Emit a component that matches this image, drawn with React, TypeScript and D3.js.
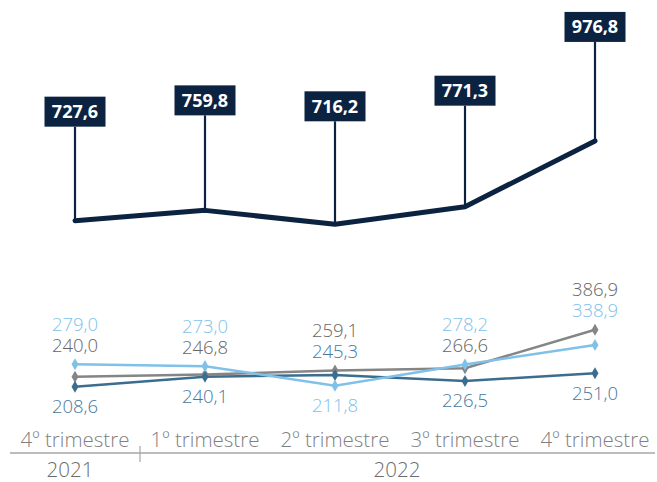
import React from 'react'
import * as d3 from 'd3'

const quarters = ['4º trimestre', '1º trimestre', '2º trimestre', '3º trimestre', '4º trimestre']
const years = [
  { label: '2021', from: 0, to: 1 },
  { label: '2022', from: 1, to: 5 },
]

const totalValues = [727.6, 759.8, 716.2, 771.3, 976.8]
const lightBlueValues = [279.0, 273.0, 211.8, 278.2, 338.9]
const grayValues = [240.0, 246.8, 259.1, 266.6, 386.9]
const darkBlueValues = [208.6, 240.1, 245.3, 226.5, 251.0]

// how far (px) the boxed labels sit above the total line
const boxLift = [94, 95, 103, 101, 99]
// label placement per quarter: series above (far -> near), series below
const labelPlan = [
  { above: ['lb', 'gr'], below: ['db'] },
  { above: ['lb', 'gr'], below: ['db'] },
  { above: ['gr', 'db'], below: ['lb'] },
  { above: ['lb', 'gr'], below: ['db'] },
  { above: ['gr', 'lb'], below: ['db'] },
]

const W = 657
const H = 482
const NAVY = '#0b2341'
const FONT = '"Open Sans", sans-serif'

const series = [
  { key: 'gr', values: grayValues, color: '#858585', text: '#666666' },
  { key: 'db', values: darkBlueValues, color: '#3b6d8f', text: '#46799e' },
  { key: 'lb', values: lightBlueValues, color: '#7fc1e8', text: '#80c2ea' },
]

const fmt = (v: number) => d3.format('.1f')(v).replace('.', ',')

export default function App() {
  const x = d3.scaleBand<number>().domain(d3.range(quarters.length)).range([10, 660]).padding(0)
  const cx = (i: number) => (x(i) as number) + x.bandwidth() / 2
  const y = d3.scaleLinear().domain([0, 1000]).range([453.5, 133.5])

  const line = d3.line<number>().x((_, i) => cx(i)).y(d => y(d))
  const diamond = d3.symbol().type(d3.symbolDiamond).size(42)

  const byKey: Record<string, typeof series[0]> = {}
  series.forEach(s => { byKey[s.key] = s })

  return (
    <svg width={W} height={H} style={{ position: 'absolute', left: 0, top: 0 }} fontFamily={FONT}>
      {/* total line */}
      <path d={line(totalValues) || ''} fill="none" stroke={NAVY} strokeWidth={5} strokeLinecap="round" strokeLinejoin="round" />
      {totalValues.map((v, i) => {
        const py = y(v)
        const bottom = py - boxLift[i]
        return (
          <g key={'t' + i}>
            <line x1={cx(i)} x2={cx(i)} y1={bottom} y2={py} stroke={NAVY} strokeWidth={2.2} />
            <rect x={cx(i) - 30.5} y={bottom - 30} width={61} height={30} fill={NAVY} />
            <text x={cx(i)} y={bottom - 15} dy="0.35em" textAnchor="middle" fill="#fff" fontWeight={700} fontSize={18}>
              {fmt(v)}
            </text>
          </g>
        )
      })}

      {/* small series */}
      {series.map(s => (
        <g key={s.key}>
          <path d={line(s.values) || ''} fill="none" stroke={s.color} strokeWidth={2.5} />
          {s.values.map((v, i) => (
            <path key={i} d={diamond() || ''} transform={`translate(${cx(i)},${y(v)})`} fill={s.color} />
          ))}
        </g>
      ))}

      {labelPlan.map((p, i) => {
        const ys = series.map(s => y(s.values[i]))
        const top = d3.min(ys) as number
        const bot = d3.max(ys) as number
        const n = p.above.length
        return (
          <g key={'l' + i} fontSize={18.5} fontWeight={300} textAnchor="middle">
            {p.above.map((k, j) => (
              <text key={k} x={cx(i)} y={top - 19 - 21 * (n - 1 - j)} dy="0.35em" fill={byKey[k].text}>
                {fmt(byKey[k].values[i])}
              </text>
            ))}
            {p.below.map((k, j) => (
              <text key={k} x={cx(i)} y={bot + 20 + 21 * j} dy="0.35em" fill={byKey[k].text}>
                {fmt(byKey[k].values[i])}
              </text>
            ))}
          </g>
        )
      })}

      {/* axis */}
      <line x1={10} x2={655} y1={453} y2={453} stroke="#a6a6a6" strokeWidth={1.5} />
      {quarters.map((q, i) => (
        <text key={'q' + i} x={cx(i)} y={440} dy="0.35em" textAnchor="middle" fontSize={20.5} fontWeight={300} fill="#808080">
          {q}
        </text>
      ))}
      {years.map((yr, i) => {
        const a = x(yr.from) as number
        const b = yr.to < quarters.length ? (x(yr.to) as number) : x.range()[1]
        return (
          <g key={'y' + i}>
            {i > 0 && <line x1={a} x2={a} y1={446} y2={462} stroke="#a6a6a6" strokeWidth={1.2} />}
            <text x={(a + b) / 2 - (i === 0 ? 5 : 3)} y={470} dy="0.35em" textAnchor="middle" fontSize={20.5} fontWeight={300} fill="#6b6b6b">
              {yr.label}
            </text>
          </g>
        )
      })}
    </svg>
  )
}
